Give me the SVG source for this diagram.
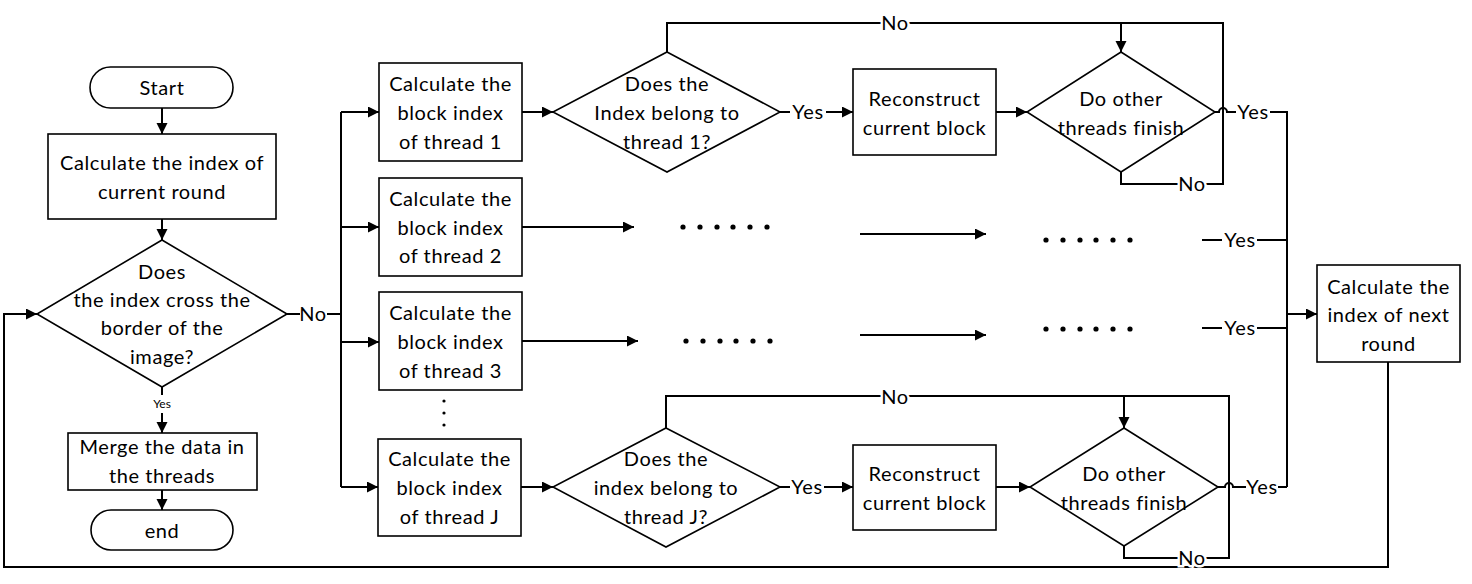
<svg xmlns="http://www.w3.org/2000/svg" width="1472" height="584" viewBox="0 0 1472 584">
<style>
text{font-family:Lato,"Liberation Sans",sans-serif;font-size:20px;fill:#000;text-anchor:middle;letter-spacing:0.6px}
.sm{font-size:12px;letter-spacing:0}
.lbl{stroke:#fff;stroke-width:5px;paint-order:stroke}
.shape{fill:#fff;stroke:#000;stroke-width:1.6}
.conn path{fill:none;stroke:#000;stroke-width:2}
.arr{marker-end:url(#ah)}
.dot{fill:#000}
</style>
<defs>
<marker id="ah" markerUnits="userSpaceOnUse" markerWidth="12" markerHeight="12" refX="11" refY="5.5" orient="auto">
<path d="M0 0 L11 5.5 L0 11 z" fill="#000"/>
</marker>
</defs>
<rect width="1472" height="584" fill="#fff"/>
<g class="conn" id="connectors">
<path class="arr" d="M162 108 V134"/>
<path class="arr" d="M162 219 V240"/>
<path d="M162 387 V395"/>
<path class="arr" d="M162 413 V433"/>
<path class="arr" d="M162 490 V510"/>
<path d="M287 314 H300"/>
<path d="M327 314 H341"/>
<path d="M341 112 V487"/>
<path class="arr" d="M341 112 H379"/>
<path class="arr" d="M341 227 H379"/>
<path class="arr" d="M341 342 H379"/>
<path class="arr" d="M341 487 H378"/>
<path class="arr" d="M1388 362 V567 H4 V314 H37"/>
<!-- row 1 -->
<path class="arr" d="M522 112 H553"/>
<path d="M780 112 H790"/>
<path class="arr" d="M826 112 H853"/>
<path class="arr" d="M996 112 H1027"/>
<path d="M667 52 V23 H1223 V184 H1121 V172"/>
<path class="arr" d="M1121 23 V52"/>
<path d="M1215 112 H1219 A4 4 0 0 1 1227 112 H1236"/>
<path d="M1270 112 H1287 V487"/>
<!-- row 2 -->
<path class="arr" d="M522 227 H634"/>
<path class="arr" d="M860 234 H986"/>
<path d="M1202 240 H1222"/>
<path d="M1257 240 H1287"/>
<!-- row 3 -->
<path class="arr" d="M522 341 H638"/>
<path class="arr" d="M860 335 H986"/>
<path d="M1202 328 H1222"/>
<path d="M1257 328 H1287"/>
<path class="arr" d="M1287 314 H1317"/>
<!-- row J -->
<path class="arr" d="M521 487 H553"/>
<path d="M780 487 H790"/>
<path class="arr" d="M824 487 H853"/>
<path class="arr" d="M996 487 H1030"/>
<path d="M666 428 V396 H1229 V558 H1124 V546"/>
<path class="arr" d="M1124 396 V428"/>
<path d="M1218 487 H1225 A4 4 0 0 1 1233 487 H1246"/>
<path d="M1278 487 H1287"/>
</g>
<g id="labels">
<text x="313" y="321">No</text>
<text class="sm" x="162" y="408">Yes</text>
<text class="lbl" x="895" y="30">No</text>
<text class="lbl" x="1192" y="191">No</text>
<text x="808" y="119">Yes</text>
<text x="1253" y="119">Yes</text>
<text x="1240" y="247">Yes</text>
<text x="1240" y="335">Yes</text>
<text class="lbl" x="895" y="404">No</text>
<text class="lbl" x="1192" y="565">No</text>
<text x="807" y="494">Yes</text>
<text x="1262" y="494">Yes</text>
</g>
<g id="dots">
<circle class="dot" cx="683" cy="227" r="2.6"/><circle class="dot" cx="700" cy="227" r="2.6"/><circle class="dot" cx="717" cy="227" r="2.6"/><circle class="dot" cx="733" cy="227" r="2.6"/><circle class="dot" cx="750" cy="227" r="2.6"/><circle class="dot" cx="767" cy="227" r="2.6"/>
<circle class="dot" cx="1046" cy="240" r="2.6"/><circle class="dot" cx="1063" cy="240" r="2.6"/><circle class="dot" cx="1080" cy="240" r="2.6"/><circle class="dot" cx="1096" cy="240" r="2.6"/><circle class="dot" cx="1113" cy="240" r="2.6"/><circle class="dot" cx="1130" cy="240" r="2.6"/>
<circle class="dot" cx="686" cy="341" r="2.6"/><circle class="dot" cx="703" cy="341" r="2.6"/><circle class="dot" cx="720" cy="341" r="2.6"/><circle class="dot" cx="736" cy="341" r="2.6"/><circle class="dot" cx="753" cy="341" r="2.6"/><circle class="dot" cx="770" cy="341" r="2.6"/>
<circle class="dot" cx="1046" cy="329" r="2.6"/><circle class="dot" cx="1063" cy="329" r="2.6"/><circle class="dot" cx="1080" cy="329" r="2.6"/><circle class="dot" cx="1096" cy="329" r="2.6"/><circle class="dot" cx="1113" cy="329" r="2.6"/><circle class="dot" cx="1130" cy="329" r="2.6"/>
<circle class="dot" cx="444" cy="401" r="1.6"/><circle class="dot" cx="444" cy="413" r="1.6"/><circle class="dot" cx="444" cy="425" r="1.6"/>
</g>
<g id="start">
<rect class="shape" x="90" y="67" width="143" height="41" rx="20.5"/>
<text x="162" y="95">Start</text>
</g>
<g id="calc-index">
<rect class="shape" x="48" y="134" width="228" height="85"/>
<text x="162" y="170">Calculate the index of</text>
<text x="162" y="199">current round</text>
</g>
<g id="cross-border">
<path class="shape" d="M162 240 L287 314 L162 387 L37 314 Z"/>
<text x="162" y="279">Does</text>
<text x="162" y="307">the index cross the</text>
<text x="162" y="335">border of the</text>
<text x="162" y="364">image?</text>
</g>
<g id="merge">
<rect class="shape" x="68" y="433" width="189" height="57"/>
<text x="162" y="454">Merge the data in</text>
<text x="162" y="483">the threads</text>
</g>
<g id="end">
<rect class="shape" x="91" y="510" width="142" height="40" rx="20"/>
<text x="162" y="538">end</text>
</g>
<g id="thread1">
<rect class="shape" x="379" y="63" width="143" height="98"/>
<text x="450.5" y="91">Calculate the</text>
<text x="450.5" y="120">block index</text>
<text x="450.5" y="149">of thread 1</text>
</g>
<g id="thread2">
<rect class="shape" x="379" y="178" width="143" height="98"/>
<text x="450.5" y="206">Calculate the</text>
<text x="450.5" y="235">block index</text>
<text x="450.5" y="263">of thread 2</text>
</g>
<g id="thread3">
<rect class="shape" x="379" y="292" width="143" height="98"/>
<text x="450.5" y="320">Calculate the</text>
<text x="450.5" y="349">block index</text>
<text x="450.5" y="378">of thread 3</text>
</g>
<g id="threadJ">
<rect class="shape" x="378" y="439" width="143" height="97"/>
<text x="449.5" y="466">Calculate the</text>
<text x="449.5" y="495">block index</text>
<text x="449.5" y="524">of thread J</text>
</g>
<g id="belong1">
<path class="shape" d="M667 52 L780 112 L667 172 L553 112 Z"/>
<text x="667" y="91">Does the</text>
<text x="667" y="120">Index belong to</text>
<text x="667" y="149">thread 1?</text>
</g>
<g id="belongJ">
<path class="shape" d="M666 428 L780 487 L666 547 L553 487 Z"/>
<text x="666" y="466">Does the</text>
<text x="666" y="495">index belong to</text>
<text x="666" y="524">thread J?</text>
</g>
<g id="reconstruct1">
<rect class="shape" x="853" y="69" width="143" height="86"/>
<text x="924.5" y="106">Reconstruct</text>
<text x="924.5" y="135">current block</text>
</g>
<g id="reconstructJ">
<rect class="shape" x="853" y="445" width="143" height="85"/>
<text x="924.5" y="481">Reconstruct</text>
<text x="924.5" y="510">current block</text>
</g>
<g id="finish1">
<path class="shape" d="M1121 52 L1215 112 L1121 172 L1027 112 Z"/>
<text x="1121" y="106">Do other</text>
<text x="1121" y="135">threads finish</text>
</g>
<g id="finishJ">
<path class="shape" d="M1124 428 L1218 487 L1124 546 L1030 487 Z"/>
<text x="1124" y="481">Do other</text>
<text x="1124" y="510">threads finish</text>
</g>
<g id="next-round">
<rect class="shape" x="1317" y="265" width="143" height="97"/>
<text x="1388.5" y="294">Calculate the</text>
<text x="1388.5" y="322">index of next</text>
<text x="1388.5" y="351">round</text>
</g>
</svg>
